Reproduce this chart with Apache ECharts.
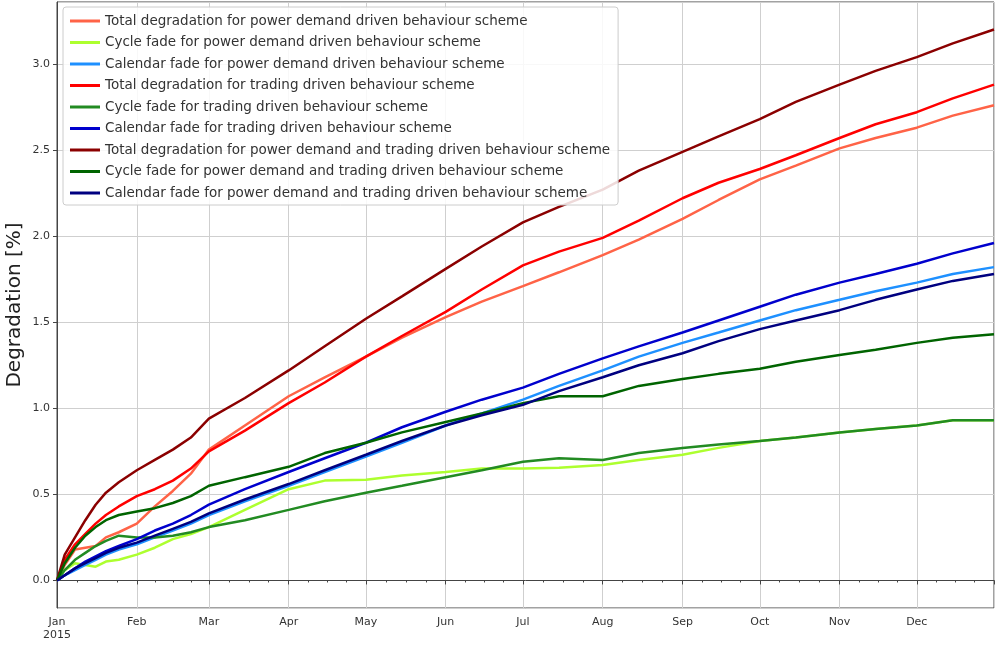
<!DOCTYPE html>
<html>
<head>
<meta charset="utf-8">
<script src="https://cdn.jsdelivr.net/npm/echarts@6/dist/echarts.min.js"></script>
<style>
html,body{margin:0;padding:0;background:#fff;}
#chart{width:998px;height:645px;}
</style>
</head>
<body>
<div id="chart"></div>
<script>
const dates = ['2015-01-01','2015-01-04','2015-01-08','2015-01-12','2015-01-16','2015-01-20','2015-01-25',
  '2015-02-01','2015-02-08','2015-02-15','2015-02-22','2015-03-01','2015-03-15','2015-04-01','2015-04-15',
  '2015-05-01','2015-05-15','2015-06-01','2015-06-15','2015-07-01','2015-07-15','2015-08-01','2015-08-15',
  '2015-09-01','2015-09-15','2015-10-01','2015-10-15','2015-11-01','2015-11-15','2015-12-01','2015-12-15','2015-12-31'];

const monthLabels = ['Jan','Feb','Mar','Apr','May','Jun','Jul','Aug','Sep','Oct','Nov','Dec'];
const yearLabel = '2015';

const seriesNames = [
  'Total degradation for power demand driven behaviour scheme',
  'Cycle fade for power demand driven behaviour scheme',
  'Calendar fade for power demand driven behaviour scheme',
  'Total degradation for trading driven behaviour scheme',
  'Cycle fade for trading driven behaviour scheme',
  'Calendar fade for trading driven behaviour scheme',
  'Total degradation for power demand and trading driven behaviour scheme',
  'Cycle fade for power demand and trading driven behaviour scheme',
  'Calendar fade for power demand and trading driven behaviour scheme'
];

const totalPD = [0,0.09,0.18,0.19,0.20,0.25,0.28,0.33,0.43,0.52,0.62,0.76,0.90,1.07,1.18,1.30,1.41,1.53,1.62,1.71,1.79,1.89,1.98,2.10,2.21,2.33,2.41,2.51,2.57,2.63,2.70,2.76];
const cyclePD = [0,0.06,0.10,0.09,0.08,0.11,0.12,0.15,0.19,0.24,0.27,0.31,0.41,0.53,0.58,0.585,0.61,0.63,0.65,0.65,0.655,0.67,0.70,0.73,0.77,0.81,0.83,0.86,0.88,0.90,0.93,0.93];
const calendarPD = [0,0.03,0.06,0.09,0.12,0.15,0.18,0.21,0.25,0.29,0.33,0.38,0.46,0.55,0.63,0.72,0.80,0.90,0.97,1.05,1.13,1.22,1.30,1.38,1.44,1.51,1.57,1.63,1.68,1.73,1.78,1.82];
const totalTR = [0,0.12,0.21,0.27,0.33,0.38,0.43,0.49,0.53,0.58,0.65,0.75,0.87,1.03,1.15,1.30,1.42,1.56,1.69,1.83,1.91,1.99,2.09,2.22,2.31,2.39,2.47,2.57,2.65,2.72,2.80,2.88];
const cycleTR = [0,0.06,0.12,0.16,0.20,0.23,0.26,0.25,0.25,0.26,0.28,0.31,0.35,0.41,0.46,0.51,0.55,0.60,0.64,0.69,0.71,0.70,0.74,0.77,0.79,0.81,0.83,0.86,0.88,0.90,0.93,0.93];
const calendarTR = [0,0.03,0.07,0.11,0.14,0.17,0.20,0.24,0.29,0.33,0.38,0.44,0.53,0.63,0.71,0.80,0.89,0.98,1.05,1.12,1.20,1.29,1.36,1.44,1.51,1.59,1.66,1.73,1.78,1.84,1.90,1.96];
const totalBoth = [0,0.15,0.25,0.35,0.44,0.51,0.57,0.64,0.70,0.76,0.83,0.94,1.06,1.22,1.36,1.52,1.65,1.81,1.94,2.08,2.17,2.27,2.38,2.49,2.58,2.68,2.78,2.88,2.96,3.04,3.12,3.20];
const cycleBoth = [0,0.10,0.19,0.26,0.31,0.35,0.38,0.40,0.42,0.45,0.49,0.55,0.60,0.66,0.74,0.80,0.86,0.92,0.97,1.03,1.07,1.07,1.13,1.17,1.20,1.23,1.27,1.31,1.34,1.38,1.41,1.43];
const calendarBoth = [0,0.03,0.07,0.10,0.13,0.16,0.19,0.22,0.26,0.30,0.34,0.39,0.47,0.56,0.64,0.73,0.81,0.90,0.96,1.02,1.10,1.18,1.25,1.32,1.39,1.46,1.51,1.57,1.63,1.69,1.74,1.78];

const seriesValues = [totalPD, cyclePD, calendarPD, totalTR, cycleTR, calendarTR, totalBoth, cycleBoth, calendarBoth];
const colors = ['#ff6347','#adff2f','#1e90ff','#ff0000','#228b22','#0000cd','#8b0000','#006400','#000080'];

const font = 'DejaVu Sans';
const chart = echarts.init(document.getElementById('chart'), null, {renderer:'canvas'});

const series = seriesNames.map((name, i) => ({
  name: name,
  type: 'line',
  symbol: 'none',
  showSymbol: false,
  smooth: false,
  animation: false,
  lineStyle: {width: 2.5, color: colors[i]},
  itemStyle: {color: colors[i]},
  data: dates.map((d, j) => [d, seriesValues[i][j]])
}));

chart.setOption({
  animation: false,
  color: colors,
  grid: {left: 57, right: 4, top: 2, bottom: 37, containLabel: false, outerBoundsMode: 'none',
         show: true, borderColor: '#444', borderWidth: 1, backgroundColor: 'transparent'},
  legend: {
    orient: 'vertical',
    left: 63, top: 7,
    padding: [7, 8, 5, 7],
    icon: 'rect',
    itemWidth: 30, itemHeight: 3, itemGap: 7.5,
    backgroundColor: 'rgba(255,255,255,0.85)',
    borderColor: '#cccccc', borderWidth: 1, borderRadius: 3,
    textStyle: {fontFamily: font, fontSize: 13.5, color: '#333', lineHeight: 14},
    data: seriesNames
  },
  xAxis: {
    type: 'time',
    min: '2015-01-01',
    max: '2015-12-31',
    minInterval: 28 * 86400000,
    maxInterval: 31 * 86400000,
    axisLine: {show: true, lineStyle: {color: '#444', width: 1}},
    axisTick: {show: true, length: 4, lineStyle: {color: '#444'}},
    minorTick: {show: true, splitNumber: 4, length: 2, lineStyle: {color: '#444'}},
    splitLine: {show: true, lineStyle: {color: '#cfcfcf', width: 1}},
    axisLabel: {
      fontFamily: font, fontSize: 11, color: '#333', margin: 8, lineHeight: 13,
      formatter: function (value) {
        const d = new Date(value);
        const m = d.getMonth();
        return m === 0 ? monthLabels[m] + '\n' + yearLabel : monthLabels[m];
      }
    }
  },
  yAxis: {
    type: 'value',
    min: -0.16,
    max: 3.36,
    splitNumber: 7,
    name: 'Degradation [%]',
    nameLocation: 'middle',
    nameGap: 32,
    nameMoveOverlap: false,
    nameTextStyle: {fontFamily: font, fontSize: 20, color: '#222'},
    axisLine: {show: true, lineStyle: {color: '#444', width: 1}},
    axisTick: {show: true, length: 4, lineStyle: {color: '#444'}},
    splitLine: {show: true, lineStyle: {color: '#cfcfcf', width: 1}},
    axisLabel: {
      fontFamily: font, fontSize: 11, color: '#333', margin: 7,
      showMinLabel: false, showMaxLabel: false,
      formatter: v => v.toFixed(1)
    }
  },
  series: series
});
</script>
</body>
</html>
